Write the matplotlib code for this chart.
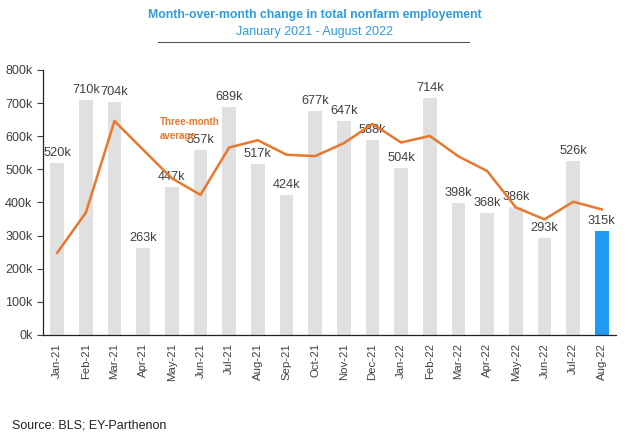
import matplotlib
matplotlib.use("Agg")
import matplotlib.pyplot as plt
from matplotlib.lines import Line2D
from matplotlib.ticker import FuncFormatter

months = ["Jan-21", "Feb-21", "Mar-21", "Apr-21", "May-21", "Jun-21", "Jul-21",
          "Aug-21", "Sep-21", "Oct-21", "Nov-21", "Dec-21", "Jan-22", "Feb-22",
          "Mar-22", "Apr-22", "May-22", "Jun-22", "Jul-22", "Aug-22"]
# monthly change, thousands
payrolls = [520, 710, 704, 263, 447, 557, 689, 517, 424, 677, 647, 588,
            504, 714, 398, 368, 386, 293, 526, 315]
# three-month average, thousands
three_month = [248, 369, 646, 559, 473, 423, 566, 588, 544, 540, 579, 637,
               581, 601, 539, 495, 385, 349, 402, 379]

plt.rcParams['font.family'] = ['Liberation Sans', 'DejaVu Sans']

grey = '#e0e0e0'
blue = '#1e9bf0'
orange = '#e8782d'
txt = '#404040'

fig = plt.figure(figsize=(6.3, 4.43), dpi=100)
ax = fig.add_axes([0.068, 0.244, 0.910, 0.598])

x = list(range(len(months)))
colors = [grey] * (len(months) - 1) + [blue]
ax.bar(x, payrolls, width=0.48, color=colors, zorder=1)
ax.plot(x, three_month, color=orange, linewidth=1.8, zorder=3)

for xi, v in zip(x, payrolls):
    ax.text(xi, v + 12, f'{v}k', ha='center', va='bottom', fontsize=9.2,
            color=txt, zorder=2)

ax.text(3.58, 622, 'Three-month\naverage', color=orange, fontsize=7,
        fontweight='bold', ha='left', va='center', linespacing=1.6, zorder=2)

ax.set_xlim(-0.5, len(months) - 0.5)
ax.set_ylim(0, 800)
ax.set_yticks(range(0, 801, 100))
ax.yaxis.set_major_formatter(FuncFormatter(lambda v, p: f'{int(v)}k'))
ax.set_xticks(x)
ax.set_xticklabels(months, rotation=90)
ax.tick_params(axis='y', labelsize=9, colors=txt, length=4, width=0.8)
ax.tick_params(axis='x', labelsize=8.2, colors=txt, length=0, pad=6)
for s in ['top', 'right']:
    ax.spines[s].set_visible(False)
for s in ['left', 'bottom']:
    ax.spines[s].set_color('#222222')
    ax.spines[s].set_linewidth(0.9)

fig.text(0.5, 1 - 15 / 443, 'Month-over-month change in total nonfarm employement',
         ha='center', va='center', fontsize=8.8, fontweight='bold', color='#2e9bdb')
fig.text(0.5, 1 - 32 / 443, 'January 2021 - August 2022',
         ha='center', va='center', fontsize=9, color='#2e9bdb')
fig.add_artist(Line2D([158 / 630, 469 / 630], [1 - 42 / 443, 1 - 42 / 443],
                      color='#555555', linewidth=0.8))
fig.text(12 / 630, 1 - 426 / 443, 'Source: BLS; EY-Parthenon',
         ha='left', va='center', fontsize=9, color='#222222')

fig.savefig('out.png', dpi=100)
